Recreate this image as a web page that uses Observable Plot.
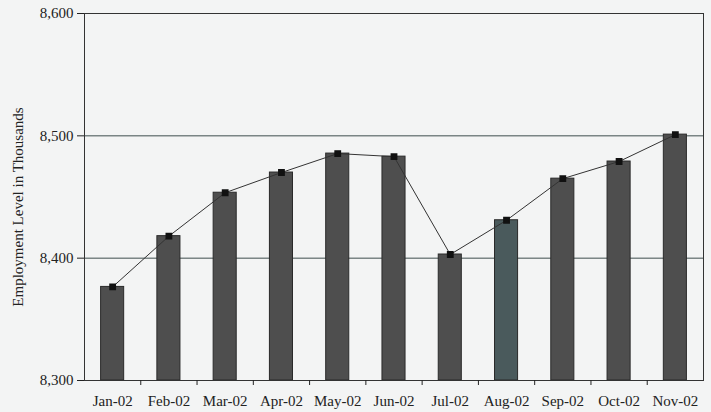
<!DOCTYPE html>
<html><head><meta charset="utf-8">
<script src="https://cdn.jsdelivr.net/npm/d3@7"></script>
<script src="https://cdn.jsdelivr.net/npm/@observablehq/plot@0.6"></script>
<style>
html,body{margin:0;padding:0;background:#f3f4f4;}
svg{background:#f3f4f4;}
</style></head><body><div id="chart"></div>
<script>
const months = ["Jan-02","Feb-02","Mar-02","Apr-02","May-02","Jun-02","Jul-02","Aug-02","Sep-02","Oct-02","Nov-02"];
const employment = [8376.5, 8418, 8453.5, 8470, 8485.5, 8483, 8403, 8431, 8465, 8479, 8501];
const yTicks = [8300, 8400, 8500, 8600];
const barColors = ["#4e4e4e","#4e4e4e","#4e4e4e","#4e4e4e","#4e4e4e","#4e4e4e","#4e4e4e","#4a5a5c","#4e4e4e","#4e4e4e","#4e4e4e"];

const data = months.map((m, i) => ({m, i, v: employment[i], c: barColors[i]}));
const half = 0.205;
const fmt = d3.format(",");

const chart = Plot.plot({
  width: 711, height: 412,
  marginLeft: 84, marginRight: 8, marginTop: 13, marginBottom: 32,
  style: {fontFamily: "Liberation Serif, serif", fontSize: "15px", color: "#222", background: "#f3f4f4"},
  x: {type: "linear", domain: [-0.5, months.length - 0.5]},
  y: {domain: [8300, 8600]},
  marks: [
    Plot.ruleY([8400, 8500], {stroke: "#3f4e4e", strokeWidth: 1}),
    Plot.rectY(data, {x1: d => d.i - half, x2: d => d.i + half, y1: 8300, y2: "v", fill: "c", stroke: "#2a2a2a", strokeWidth: 1}),
    Plot.line(data, {x: "i", y: "v", stroke: "#333", strokeWidth: 1}),
    Plot.dot(data, {x: "i", y: "v", symbol: "square", r: 3, fill: "#111", stroke: "#111"}),
    Plot.frame({stroke: "#333", strokeWidth: 1}),
    Plot.axisY(yTicks, {tickFormat: fmt, tickSize: 7, tickPadding: 4, fontSize: 15, fontFamily: "Liberation Serif", label: null}),
    Plot.axisX(d3.range(0.5, months.length - 0.5, 1), {tickFormat: () => "", tickSize: 5, label: null}),
    Plot.axisX(d3.range(months.length), {tickFormat: i => months[i], tickSize: 0, tickPadding: 15, fontSize: 15, fontFamily: "Liberation Serif", label: null}),
    Plot.text(["Employment Level in Thousands"], {frameAnchor: "left", textAnchor: "middle", dx: -66, dy: 10, rotate: -90, fontSize: 15, fontFamily: "Liberation Serif", fill: "#222"})
  ]
});
document.getElementById("chart").append(chart);
</script></body></html>
